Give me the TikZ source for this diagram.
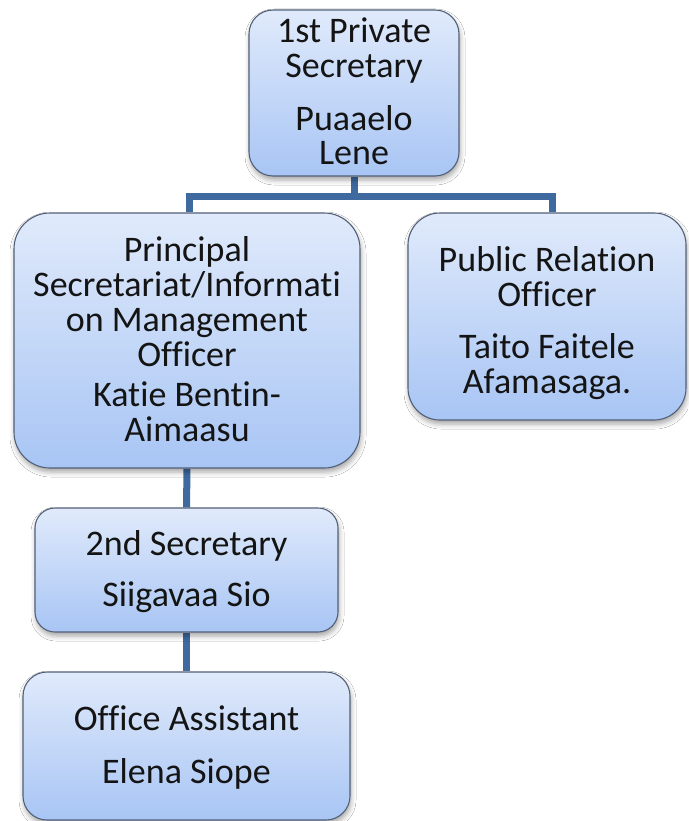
\documentclass[tikz,border=0pt]{standalone}
\usepackage{fontspec}
\setmainfont{Carlito}[Ligatures=NoCommon]
\usetikzlibrary{shadows.blur,backgrounds}

\definecolor{boxtop}{RGB}{224,234,251}
\definecolor{boxbot}{RGB}{168,197,244}
\definecolor{boxline}{RGB}{82,96,120}
\definecolor{conn}{RGB}{62,106,160}
\definecolor{ink}{RGB}{20,20,20}

% struts so every text block is centred on its letters
\newcommand{\vstrut}{\rule[-8pt]{0pt}{38pt}}
\newcommand{\tallstrut}{\rule[-8pt]{0pt}{48pt}}

\tikzset{
  orgbox/.style={
    rectangle, draw=boxline, line width=1.1pt,
    top color=boxtop, bottom color=boxbot,
    inner sep=0pt, align=center, text=ink,
    font=\fontsize{36}{35}\selectfont,
    blur shadow={shadow xshift=1pt, shadow yshift=-4pt,
                 shadow blur radius=5pt, shadow opacity=35}
  },
  conn/.style={draw=conn, line width=7pt}
}

\begin{document}
\begin{tikzpicture}[x=1pt,y=-1pt]
\useasboundingbox (0,0) rectangle (688,821);

\node[orgbox, minimum width=210pt, minimum height=166pt, rounded corners=24pt]
  (ps) at (354,93)
  {\vstrut 1st Private\\ Secretary\\[17pt] Puaaelo\\ Lene\vstrut};

\node[orgbox, minimum width=346pt, minimum height=255pt, rounded corners=36pt]
  (pim) at (187,340.5)
  {\vstrut Principal\\ Secretariat/Informati\\ on Management\\ Officer\\[5pt]
   Katie Bentin-\\ Aimaasu\vstrut};

\node[orgbox, minimum width=278pt, minimum height=207pt, rounded corners=32pt]
  (pro) at (547,316.5)
  {\tallstrut Public Relation\\ Officer\\[17pt] Taito Faitele\\ Afamasaga.\vstrut};

\node[orgbox, minimum width=303pt, minimum height=124pt, rounded corners=20pt]
  (sec) at (186.5,570)
  {\vstrut 2nd Secretary\\[12pt] Siigavaa Sio\vstrut};

\node[orgbox, minimum width=327pt, minimum height=148pt, rounded corners=24pt]
  (oa) at (186.5,746)
  {\vstrut Office Assistant\\[14pt] Elena Siope\vstrut};

\coordinate (busL) at (189,196);
\coordinate (busR) at (552,196);

\begin{scope}[on background layer]
  \fill[white] (0,0) rectangle (688,821);
  \draw[conn] (ps.south) -- (ps.south |- busL);
  \draw[conn] (pim.north -| busL) -- (busL) -- (busR) -- (pro.north -| busR);
  \draw[conn] (pim.south) -- (sec.north);
  \draw[conn] (sec.south) -- (oa.north);
\end{scope}
\end{tikzpicture}
\end{document}
